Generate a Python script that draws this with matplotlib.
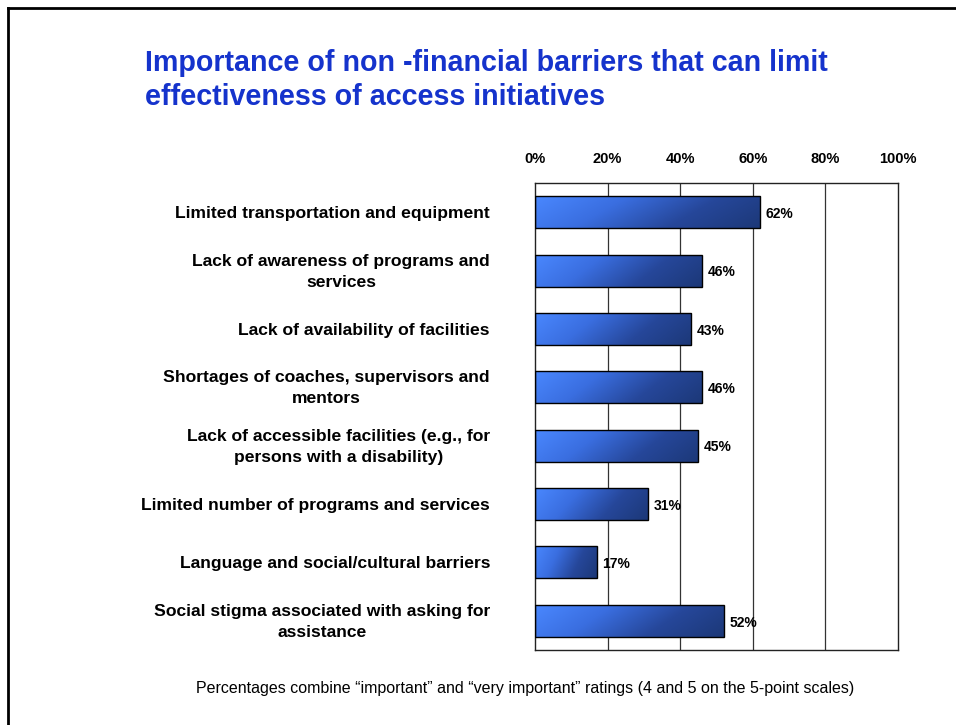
import numpy as np
import matplotlib.pyplot as plt
from matplotlib.lines import Line2D
from matplotlib.colors import LinearSegmentedColormap

plt.rcParams['font.family'] = ['Liberation Sans', 'DejaVu Sans']

categories = [
    "Limited transportation and equipment",
    "Lack of awareness of programs and\nservices",
    "Lack of availability of facilities",
    "Shortages of coaches, supervisors and\nmentors",
    "Lack of accessible facilities (e.g., for\npersons with a disability)",
    "Limited number of programs and services",
    "Language and social/cultural barriers",
    "Social stigma associated with asking for\nassistance",
]
values = [62, 46, 43, 46, 45, 31, 17, 52]
ticks = [0, 20, 40, 60, 80, 100]
title_lines = ["Importance of non -financial barriers that can limit",
               "effectiveness of access initiatives"]

W, H = 956, 725
fig = plt.figure(figsize=(W / 100, H / 100), dpi=100)
fig.patch.set_facecolor('white')

# slide border (left and top)
fig.add_artist(Line2D([8 / W, 8 / W], [0, 1 - 8 / H], transform=fig.transFigure, color='black', lw=2))
fig.add_artist(Line2D([8 / W, 1], [1 - 8 / H, 1 - 8 / H], transform=fig.transFigure, color='black', lw=2))

for k, line in enumerate(title_lines):
    fig.text(145 / W, 1 - (63 + 34 * k) / H, line, color='#1533cc', fontsize=20.6,
             fontweight='bold', ha='left', va='center')

ax = fig.add_axes([535 / W, 1 - 650 / H, 363 / W, 467 / H])
ax.set_xlim(0, 100)
ax.set_ylim(len(values) - 0.5, -0.5)

# horizontal blue-to-navy fade, a little darker toward the bottom edge
cmap = LinearSegmentedColormap.from_list('barblue', ['#4a88ff', '#3a6ee0', '#26479a', '#1c3878'])
gx = np.linspace(0, 1, 256)
gy = np.linspace(0, 1, 32)
grad = gx[None, :] * 0.8 + 0.2 * gy[:, None]

bh = 0.55
for i, v in enumerate(values):
    im = ax.imshow(grad, cmap=cmap, aspect='auto', extent=[0, v, i + bh / 2, i - bh / 2],
                   interpolation='bilinear', zorder=2)
    rect = plt.Rectangle((0, i - bh / 2), v, bh, facecolor='none', edgecolor='black', lw=1, zorder=3)
    ax.add_patch(rect)
    im.set_clip_path(rect)
    ax.text(v + 1.6, i + 0.03, f"{v}%", fontsize=10, fontweight='bold', ha='left', va='center', zorder=4)

for t in ticks[1:-1]:
    ax.axvline(t, color='#333333', lw=0.9, zorder=1)

ax.set_xticks(ticks)
ax.set_xticklabels([f"{t}%" for t in ticks], fontsize=10.5, fontweight='bold')
ax.xaxis.tick_top()
ax.tick_params(axis='x', length=0, pad=12)
ax.set_yticks([])
for s in ax.spines.values():
    s.set_color('#222222')
    s.set_linewidth(1)

for i, c in enumerate(categories):
    ax.text(-45 / 3.63, i + 0.02, c, fontsize=12.6, fontweight='bold', ha='right', va='center',
            multialignment='center', linespacing=1.5)

fig.text(525 / W, 1 - 688 / H,
         "Percentages combine \u201cimportant\u201d and \u201cvery important\u201d ratings (4 and 5 on the 5-point scales)",
         fontsize=11.5, ha='center', va='center')

fig.savefig('out.png', dpi=100)
